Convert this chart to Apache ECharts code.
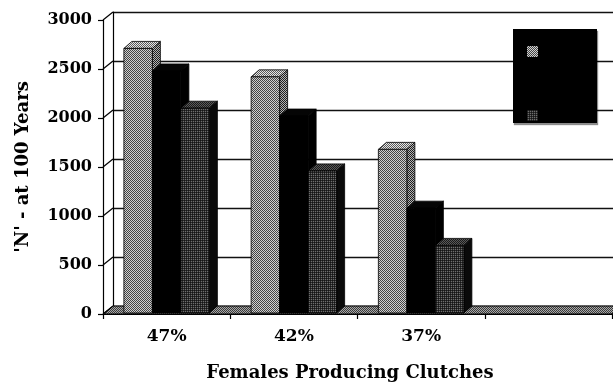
<!DOCTYPE html>
<html>
<head>
<meta charset="utf-8">
<script src="https://cdn.jsdelivr.net/npm/echarts@6/dist/echarts.min.js"></script>
<style>
  html, body { margin: 0; padding: 0; background: #fff; }
  #chart { width: 613px; height: 387px; }
</style>
</head>
<body>
<div id="chart"></div>
<script>
// Category labels along the floor (the fourth slot is left empty)
const categories = ['47%', '42%', '37%', ''];
// Series names shown in the legend box
const seriesNames = ['Series1', 'Series2', 'Series3'];
// Population size 'N' after 100 years, per series
const seriesA = [2710, 2420, 1680];
const seriesB = [2480, 2020, 1080];
const seriesC = [2100, 1460, 700];
// Value-axis tick values
const yTicks = [0, 500, 1000, 1500, 2000, 2500, 3000];

const FONT = 'DejaVu Serif';
const DEPTH_WALL = [10, -8];   // offset from the front plane to the back wall
const DEPTH_BAR = [8, -7];     // visible depth of each column

// Small halftone tiles used as fills
function tile(size, cells) {
  const c = document.createElement('canvas');
  c.width = size; c.height = size;
  const g = c.getContext('2d');
  for (let y = 0; y < size; y++) {
    for (let x = 0; x < size; x++) {
      g.fillStyle = cells[(y * size + x) % cells.length];
      g.fillRect(x, y, 1, 1);
    }
  }
  return { image: c, repeat: 'repeat' };
}
const fills = {
  lightFront: tile(2, ['#444444', '#d0d0d0', '#d0d0d0', '#444444']),
  lightTop:   tile(2, ['#5a5a5a', '#e6e6e6', '#e6e6e6', '#5a5a5a']),
  lightSide:  tile(2, ['#1e1e1e', '#b4b4b4', '#b4b4b4', '#1e1e1e']),
  blackFront: '#000',
  blackTop:   '#050505',
  blackSide:  '#000',
  darkFront:  tile(2, ['#151515', '#2a2a2a', '#2a2a2a', '#6e6e6e']),
  darkTop:    tile(2, ['#1a1a1a', '#5a5a5a', '#5a5a5a', '#1a1a1a']),
  darkSide:   '#0a0a0a',
  floor:      tile(2, ['#3a3a3a', '#a8a8a8', '#a8a8a8', '#3a3a3a'])
};
const faceSets = [
  [fills.lightFront, fills.lightTop, fills.lightSide],
  [fills.blackFront, fills.blackTop, fills.blackSide],
  [fills.darkFront, fills.darkTop, fills.darkSide]
];

// 3-D column: front face, top face and right side face
function columnRenderer(slot) {
  return function (params, api) {
    const cat = api.value(0);
    const val = api.value(1);
    const base = api.coord([cat, 0]);
    const top = api.coord([cat, val]);
    const band = api.size([1, 0])[0];
    const bw = band * 0.224;
    const x0 = base[0] - 1.5 * bw + slot * bw;
    const yb = base[1] - 1;
    const yt = top[1];
    const [dx, dy] = DEPTH_BAR;
    const f = faceSets[slot];
    const edge = '#000';
    return {
      type: 'group',
      children: [
        { type: 'polygon', shape: { points: [[x0 + bw, yt], [x0 + bw + dx, yt + dy], [x0 + bw + dx, yb + dy], [x0 + bw, yb]] },
          style: { fill: f[2], stroke: edge, lineWidth: 0.8 } },
        { type: 'polygon', shape: { points: [[x0, yt], [x0 + bw, yt], [x0 + bw + dx, yt + dy], [x0 + dx, yt + dy]] },
          style: { fill: f[1], stroke: edge, lineWidth: 0.8 } },
        { type: 'rect', shape: { x: x0, y: yt, width: bw, height: yb - yt },
          style: { fill: f[0], stroke: edge, lineWidth: 0.8 } }
      ]
    };
  };
}

// Floor slab and the short side-wall links from each tick to the back wall
function decorRenderer(params, api) {
  if (params.dataIndex !== 0) return null;
  const cs = params.coordSys;
  const [dx, dy] = DEPTH_WALL;
  const yb = cs.y + cs.height;
  const children = [
    { type: 'polygon', shape: { points: [[cs.x, yb], [cs.x + cs.width, yb], [cs.x + cs.width + dx, yb + dy], [cs.x + dx, yb + dy]] },
      style: { fill: fills.floor, stroke: '#000', lineWidth: 1 } }
  ];
  yTicks.forEach(function (v) {
    const p = api.coord([0, v]);
    children.push({ type: 'line', shape: { x1: cs.x, y1: p[1], x2: cs.x + dx, y2: p[1] + dy },
      style: { stroke: '#000', lineWidth: 1.2 } });
  });
  return { type: 'group', children: children };
}

const toData = arr => arr.map((v, i) => [i, v]);

const chart = echarts.init(document.getElementById('chart'), null, { renderer: 'canvas' });
chart.setOption({
  animation: false,
  backgroundColor: '#fff',
  title: {
    text: 'Females Producing Clutches',
    left: 345, top: 359, textAlign: 'center',
    textStyle: { fontFamily: FONT, fontWeight: 'bold', fontSize: 18, color: '#000' }
  },
  grid: [
    { left: 103, top: 20, width: 509, height: 294 },
    { left: 113, top: 12, width: 509, height: 294 }
  ],
  xAxis: [
    {
      type: 'category', gridIndex: 0, data: categories, boundaryGap: true,
      axisLine: { lineStyle: { color: '#000', width: 1.2 } },
      axisTick: { show: true, interval: 0, length: 5, lineStyle: { color: '#000', width: 1.2 } },
      axisLabel: { interval: 0, margin: 14, fontFamily: FONT, fontWeight: 'bold', fontSize: 17, color: '#000' },
      splitLine: { show: false }
    },
    { type: 'category', gridIndex: 1, data: categories, show: false }
  ],
  yAxis: [
    {
      type: 'value', gridIndex: 0, min: 0, max: 3000, interval: 500,
      name: "'N' - at 100 Years", nameLocation: 'middle', nameRotate: 90, nameGap: 71,
      nameTextStyle: { fontFamily: FONT, fontWeight: 'bold', fontSize: 18, color: '#000' },
      axisLine: { show: true, lineStyle: { color: '#000', width: 1.2 } },
      axisTick: { show: true, length: 5, lineStyle: { color: '#000', width: 1.2 } },
      axisLabel: { margin: 11, fontFamily: FONT, fontWeight: 'bold', fontSize: 16, color: '#000',
        formatter: v => String(v) },
      splitLine: { show: false }
    },
    {
      type: 'value', gridIndex: 1, min: 0, max: 3000, interval: 500,
      axisLine: { show: true, lineStyle: { color: '#000', width: 1.2 } },
      axisTick: { show: false }, axisLabel: { show: false },
      splitLine: { show: true, lineStyle: { color: '#111', width: 1.3 } }
    }
  ],
  legend: {
    data: seriesNames, orient: 'vertical', left: 522, top: 41,
    itemWidth: 11, itemHeight: 11, itemGap: 21, icon: 'rect',
    selectedMode: false, z: 20,
    textStyle: { color: '#000', fontSize: 10, fontFamily: FONT }
  },
  graphic: [
    { type: 'rect', left: 513, top: 29, z: 15,
      shape: { width: 84, height: 94 },
      style: { fill: '#000', shadowColor: 'rgba(0,0,0,0.45)', shadowOffsetX: 1, shadowOffsetY: 2, shadowBlur: 1 } }
  ],
  series: [
    { type: 'custom', name: 'floor', silent: true, xAxisIndex: 0, yAxisIndex: 0,
      data: [[0, 0]], renderItem: decorRenderer, z: 1 },
    { type: 'custom', name: seriesNames[0], xAxisIndex: 0, yAxisIndex: 0,
      itemStyle: { color: fills.lightFront }, data: toData(seriesA), renderItem: columnRenderer(0), z: 2 },
    { type: 'custom', name: seriesNames[1], xAxisIndex: 0, yAxisIndex: 0,
      itemStyle: { color: fills.blackFront }, data: toData(seriesB), renderItem: columnRenderer(1), z: 2 },
    { type: 'custom', name: seriesNames[2], xAxisIndex: 0, yAxisIndex: 0,
      itemStyle: { color: fills.darkFront }, data: toData(seriesC), renderItem: columnRenderer(2), z: 2 }
  ]
});
</script>
</body>
</html>
